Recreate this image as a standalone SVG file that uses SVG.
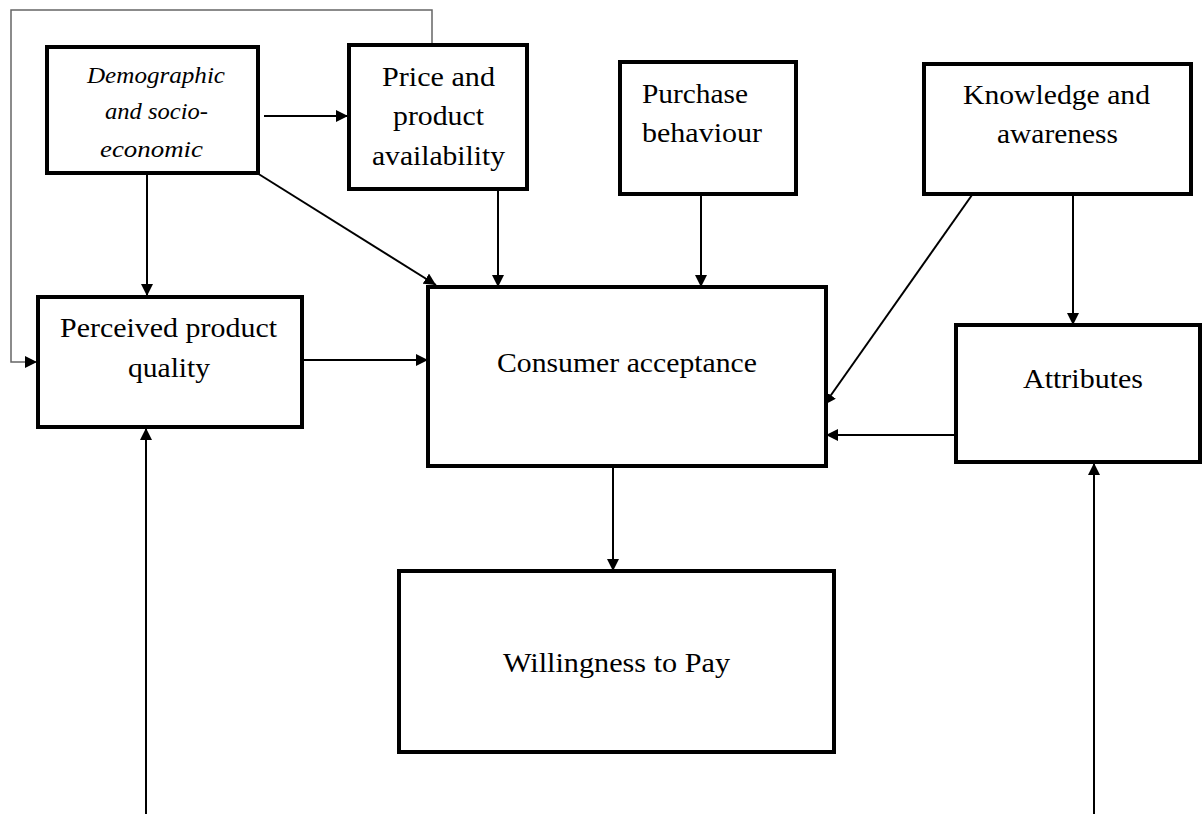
<svg xmlns="http://www.w3.org/2000/svg" width="1202" height="814" viewBox="0 0 1202 814">
<style>
.box{fill:#fff;stroke:#000;stroke-width:4}
.t{font-family:"Liberation Serif","Times New Roman",serif;font-size:28px;fill:#000}
.it{font-family:"Liberation Serif","Times New Roman",serif;font-size:24px;font-style:italic;fill:#000}
.c{fill:none;stroke:#000;stroke-width:2}
.g{fill:none;stroke:#666;stroke-width:1.5}
</style>
<defs>
<marker id="arr" markerUnits="userSpaceOnUse" markerWidth="12" markerHeight="12" viewBox="0 0 12 12" refX="12" refY="6" orient="auto">
<path d="M0,0 L12,6 L0,12 z" fill="#000"/>
</marker>
</defs>
<rect width="1202" height="814" fill="#fff"/>
<g id="connectors">
<polyline class="g" points="432,45 432,10 11,10 11,362 37,362" marker-end="url(#arr)"/>
<line class="c" x1="264" y1="116" x2="348" y2="116" marker-end="url(#arr)"/>
<line class="c" x1="147" y1="173" x2="147" y2="296" marker-end="url(#arr)"/>
<line class="c" x1="257" y1="173" x2="436" y2="285" marker-end="url(#arr)"/>
<line class="c" x1="498" y1="189" x2="498" y2="287" marker-end="url(#arr)"/>
<line class="c" x1="701" y1="194" x2="701" y2="287" marker-end="url(#arr)"/>
<line class="c" x1="972" y1="195" x2="824" y2="405" marker-end="url(#arr)"/>
<line class="c" x1="1073" y1="195" x2="1073" y2="325" marker-end="url(#arr)"/>
<line class="c" x1="955" y1="435" x2="826" y2="435" marker-end="url(#arr)"/>
<line class="c" x1="302" y1="360" x2="428" y2="360" marker-end="url(#arr)"/>
<line class="c" x1="613" y1="466" x2="613" y2="571" marker-end="url(#arr)"/>
<line class="c" x1="146" y1="814" x2="146" y2="428" marker-end="url(#arr)"/>
<line class="c" x1="1094" y1="814" x2="1094" y2="463" marker-end="url(#arr)"/>
</g>
<g id="demographic">
<rect class="box" x="47" y="47" width="211" height="126"/>
<text class="it" x="87" y="83" textLength="138" lengthAdjust="spacingAndGlyphs">Demographic</text>
<text class="it" x="105" y="119" textLength="103" lengthAdjust="spacingAndGlyphs">and socio-</text>
<text class="it" x="100" y="157" textLength="103" lengthAdjust="spacingAndGlyphs">economic</text>
</g>
<g id="price">
<rect class="box" x="349" y="45" width="178" height="144"/>
<text class="t" x="382" y="86" textLength="113" lengthAdjust="spacingAndGlyphs">Price and</text>
<text class="t" x="393" y="125" textLength="91" lengthAdjust="spacingAndGlyphs">product</text>
<text class="t" x="372" y="165" textLength="133" lengthAdjust="spacingAndGlyphs">availability</text>
</g>
<g id="purchase">
<rect class="box" x="620" y="62" width="176" height="132"/>
<text class="t" x="642" y="103" textLength="106" lengthAdjust="spacingAndGlyphs">Purchase</text>
<text class="t" x="642" y="142" textLength="120" lengthAdjust="spacingAndGlyphs">behaviour</text>
</g>
<g id="knowledge">
<rect class="box" x="924" y="64" width="267" height="130"/>
<text class="t" x="963" y="104" textLength="187" lengthAdjust="spacingAndGlyphs">Knowledge and</text>
<text class="t" x="997" y="143" textLength="121" lengthAdjust="spacingAndGlyphs">awareness</text>
</g>
<g id="perceived">
<rect class="box" x="38" y="297" width="264" height="130"/>
<text class="t" x="60" y="337" textLength="217" lengthAdjust="spacingAndGlyphs">Perceived product</text>
<text class="t" x="128" y="377" textLength="82" lengthAdjust="spacingAndGlyphs">quality</text>
</g>
<g id="consumer">
<rect class="box" x="428" y="287" width="398" height="179"/>
<text class="t" x="497" y="372" textLength="260" lengthAdjust="spacingAndGlyphs">Consumer acceptance</text>
</g>
<g id="attributes">
<rect class="box" x="956" y="325" width="244" height="137"/>
<text class="t" x="1023" y="388" textLength="120" lengthAdjust="spacingAndGlyphs">Attributes</text>
</g>
<g id="wtp">
<rect class="box" x="399" y="571" width="435" height="181"/>
<text class="t" x="503" y="672" textLength="227" lengthAdjust="spacingAndGlyphs">Willingness to Pay</text>
</g>
</svg>
